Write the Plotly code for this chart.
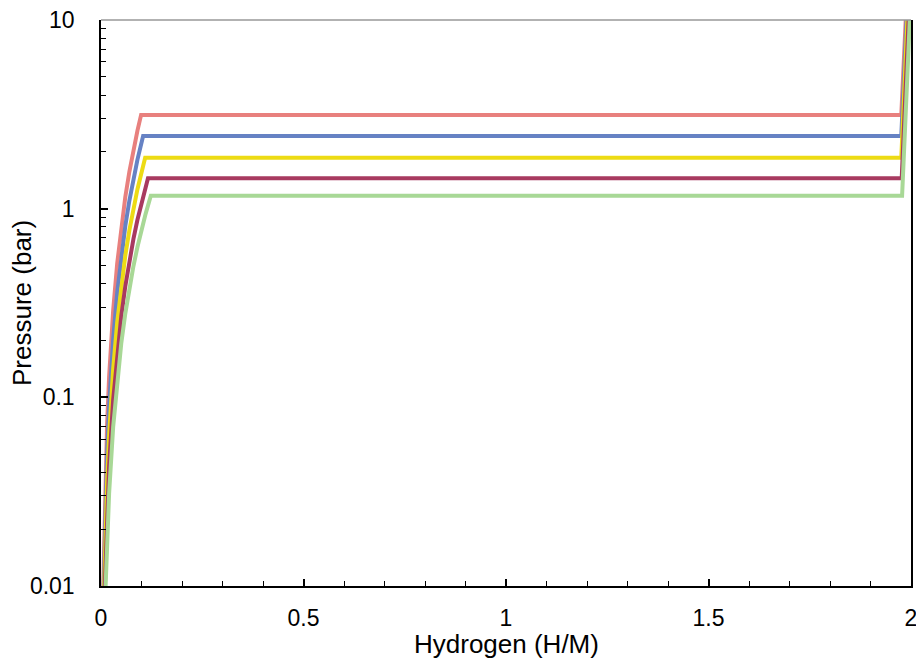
import plotly.graph_objects as go

# Data (x = H/M, y = pressure in bar)
red_x = [0.0056, 0.01, 0.015, 0.02, 0.03, 0.04, 0.05, 0.06, 0.07, 0.08, 0.09, 0.099, 1.976, 1.987]
red_y = [0.01, 0.032, 0.072, 0.128, 0.288, 0.513, 0.801, 1.153, 1.569, 2.05, 2.594, 3.14, 3.14, 10.0]

blue_x = [0.0067, 0.01, 0.015, 0.02, 0.03, 0.04, 0.05, 0.06, 0.07, 0.08, 0.09, 0.104, 1.976, 1.989]
blue_y = [0.01, 0.0225, 0.0505, 0.0899, 0.202, 0.359, 0.562, 0.809, 1.101, 1.438, 1.82, 2.43, 2.43, 10.0]

yellow_x = [0.008, 0.01, 0.015, 0.02, 0.03, 0.04, 0.05, 0.06, 0.07, 0.08, 0.09, 0.109, 1.976, 1.991]
yellow_y = [0.01, 0.0157, 0.0352, 0.0626, 0.141, 0.250, 0.391, 0.564, 0.767, 1.002, 1.268, 1.86, 1.86, 10.0]

crimson_x = [0.0096, 0.015, 0.02, 0.03, 0.04, 0.05, 0.06, 0.07, 0.08, 0.09, 0.1, 0.116, 1.977, 1.994]
crimson_y = [0.01, 0.0242, 0.0431, 0.097, 0.172, 0.269, 0.388, 0.528, 0.690, 0.873, 1.078, 1.45, 1.45, 10.0]

green_x = [0.0114, 0.015, 0.02, 0.03, 0.04, 0.05, 0.06, 0.07, 0.08, 0.09, 0.1, 0.11, 0.123, 1.978, 1.997]
green_y = [0.01, 0.0174, 0.0309, 0.0696, 0.124, 0.193, 0.278, 0.379, 0.495, 0.626, 0.773, 0.936, 1.17, 1.17, 10.0]

x_tickvals = [0, 0.5, 1, 1.5, 2]
x_ticktext = ["0", "0.5", "1", "1.5", "2"]
y_tickvals = [0.01, 0.1, 1, 10]
y_ticktext = ["0.01", "0.1", "1", "10"]

series = [
    (red_x, red_y, "#E8807E"),
    (blue_x, blue_y, "#6682C4"),
    (yellow_x, yellow_y, "#EDDB14"),
    (crimson_x, crimson_y, "#A83A60"),
    (green_x, green_y, "#A8D896"),
]

fig = go.Figure()
for xs, ys, col in series:
    fig.add_trace(go.Scatter(x=xs, y=ys, mode="lines",
                             line=dict(color=col, width=4),
                             showlegend=False, hoverinfo="skip"))

y_minor = [m * 10 ** e for e in (-2, -1, 0) for m in range(2, 10)]

# page body has an 8px margin, so the figure is offset by 8px in the window
fig.update_layout(
    width=916, height=650,
    margin=dict(l=93, r=13, t=12, b=72),
    plot_bgcolor="white", paper_bgcolor="white",
    font=dict(family="Liberation Sans, Arial, sans-serif", color="black", size=23),
    xaxis=dict(
        range=[0, 2], tickmode="array", tickvals=x_tickvals, ticktext=x_ticktext,
        ticks="inside", ticklen=7, tickwidth=1.5, tickcolor="black",
        showline=True, linecolor="black", linewidth=1.5, mirror=False,
        showgrid=False, zeroline=False, ticklabelstandoff=11,
        ticklabeloverflow="allow", automargin=False,
        minor=dict(dtick=0.1, ticks="inside", ticklen=5, tickwidth=1.2,
                   tickcolor="black", showgrid=False),
    ),
    yaxis=dict(
        type="log", range=[-2, 1], tickmode="array", tickvals=y_tickvals,
        ticktext=y_ticktext,
        ticks="inside", ticklen=7, tickwidth=1.5, tickcolor="black",
        showline=True, linecolor="black", linewidth=1.5, mirror=True,
        showgrid=False, zeroline=False, ticklabelstandoff=20,
        ticklabeloverflow="allow", automargin=False,
        minor=dict(tickmode="array", tickvals=y_minor, ticks="inside", ticklen=5,
                   tickwidth=1.2, tickcolor="black", showgrid=False),
    ),
    shapes=[dict(type="line", xref="paper", yref="paper", x0=0, x1=1, y0=1, y1=1,
                 line=dict(color="#999999", width=1.5))],
    annotations=[
        dict(text="Hydrogen (H/M)", xref="paper", yref="paper", x=0.5, y=0,
             xanchor="center", yanchor="middle", yshift=-58, showarrow=False,
             borderpad=0, font=dict(size=26)),
        dict(text="Pressure (bar)", xref="paper", yref="paper", x=0, y=0.5,
             xanchor="center", yanchor="middle", xshift=-79, textangle=-90,
             showarrow=False, font=dict(size=26)),
    ],
)

fig.write_html("out.html")
